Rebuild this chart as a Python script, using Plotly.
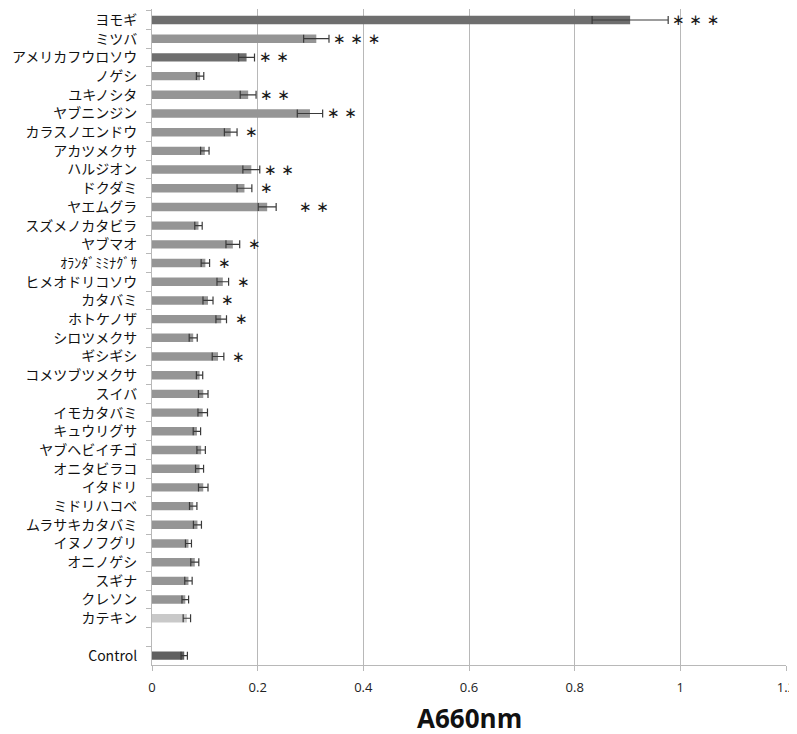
import plotly.graph_objects as go

categories = ["ヨモギ", "ミツバ", "アメリカフウロソウ", "ノゲシ", "ユキノシタ", "ヤブニンジン",
              "カラスノエンドウ", "アカツメクサ", "ハルジオン", "ドクダミ", "ヤエムグラ",
              "スズメノカタビラ", "ヤブマオ", "ｵﾗﾝﾀﾞﾐﾐﾅｸﾞｻ", "ヒメオドリコソウ", "カタバミ",
              "ホトケノザ", "シロツメクサ", "ギシギシ", "コメツブツメクサ", "スイバ", "イモカタバミ",
              "キュウリグサ", "ヤブヘビイチゴ", "オニタビラコ", "イタドリ", "ミドリハコベ",
              "ムラサキカタバミ", "イヌノフグリ", "オニノゲシ", "スギナ", "クレソン", "カテキン",
              " ", "Control"]
values = [0.905, 0.311, 0.179, 0.091, 0.182, 0.299,
          0.149, 0.100, 0.188, 0.175, 0.218,
          0.088, 0.153, 0.101, 0.134, 0.106,
          0.131, 0.078, 0.125, 0.090, 0.097, 0.096,
          0.085, 0.093, 0.090, 0.097, 0.078,
          0.086, 0.069, 0.081, 0.069, 0.063, 0.066,
          None, 0.061]
errors = [0.072, 0.024, 0.015, 0.007, 0.015, 0.024,
          0.012, 0.008, 0.016, 0.014, 0.017,
          0.007, 0.013, 0.008, 0.011, 0.0095,
          0.010, 0.0076, 0.011, 0.006, 0.009, 0.009,
          0.007, 0.008, 0.0076, 0.009, 0.007,
          0.0076, 0.0057, 0.0076, 0.007, 0.0063, 0.007,
          None, 0.006]
stars = [3, 3, 2, 0, 2, 2,
         1, 0, 2, 1, 2,
         0, 1, 1, 1, 1,
         1, 0, 1, 0, 0, 0,
         0, 0, 0, 0, 0,
         0, 0, 0, 0, 0, 0,
         0, 0]
x_ticks = [0, 0.2, 0.4, 0.6, 0.8, 1.0, 1.2]
x_tick_labels = ["0", "0.2", "0.4", "0.6", "0.8", "1", "1.2"]
x_title = "A660nm"

colors = []
for c in categories:
    if c in ("ヨモギ", "アメリカフウロソウ"):
        colors.append("#6e6e6e")
    elif c == "カテキン":
        colors.append("#c9c9c9")
    elif c == "Control":
        colors.append("#606060")
    else:
        colors.append("#959595")

fig = go.Figure()
fig.add_trace(go.Bar(
    y=categories, x=values, orientation="h",
    marker=dict(color=colors, line=dict(width=0)),
    error_x=dict(type="data", array=errors,
                 symmetric=True, color="#3a3a3a", thickness=1.2, width=4,
                 visible=True),
    hoverinfo="skip",
))

for c, v, e, s in zip(categories, values, errors, stars):
    if s and v is not None:
        shift = 2 if s > 1 else 6
        if c == "ヤエムグラ":
            shift = 21
        fig.add_annotation(
            x=v + e, y=c, xref="x", yref="y", text=" ".join(["∗"] * s),
            showarrow=False, xanchor="left", yanchor="middle", xshift=shift, yshift=0,
            font=dict(family="DejaVu Sans", size=15, color="#1a1a1a"),
        )

# axis title drawn as an annotation for exact placement
fig.add_annotation(
    x=0.5, y=0, xref="paper", yref="paper", text="<b>" + x_title + "</b>",
    showarrow=False, xanchor="center", yanchor="middle", yshift=-53,
    font=dict(family="Open Sans", size=26, color="#111111"),
)

# page body has an 8px margin, so the figure is offset by 8px
fig.update_layout(
    width=789, height=726,
    margin=dict(l=144, r=11, t=1, b=69),
    plot_bgcolor="white", paper_bgcolor="white",
    bargap=0.55, showlegend=False,
    font=dict(family="Noto Sans CJK JP", color="#111111"),
)
fig.update_xaxes(
    range=[0, 1.2], tickvals=x_ticks, ticktext=x_tick_labels,
    showgrid=True, gridcolor="#b8b8b8", gridwidth=1,
    showline=True, linecolor="#b8b8b8", linewidth=1,
    ticks="outside", ticklen=5, tickcolor="#b8b8b8",
    tickfont=dict(family="Open Sans", size=13, color="#222222"),
    ticklabelstandoff=5, ticklabeloverflow="allow",
    zeroline=False, automargin=False,
)
fig.update_yaxes(
    type="category", categoryorder="array", categoryarray=categories,
    autorange="reversed", automargin=False,
    showline=True, linecolor="#b8b8b8", linewidth=1,
    ticks="outside", ticklen=5, tickcolor="#b8b8b8", tickson="boundaries",
    tickfont=dict(family="Noto Sans CJK JP", size=14, color="#111111"),
    ticklabelstandoff=11,
    showgrid=False,
)

fig.write_html("out.html")
